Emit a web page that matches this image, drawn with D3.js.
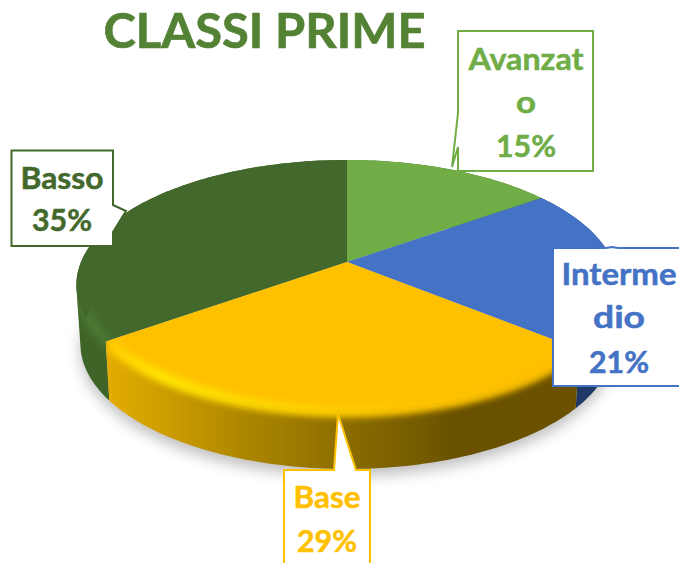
<!DOCTYPE html>
<html><head><meta charset="utf-8">
<script src="https://cdn.jsdelivr.net/npm/d3@7"></script>
<style>html,body{margin:0;padding:0;background:#fff;overflow:hidden}svg{display:block}text{font-family:Lato,"Open Sans",sans-serif;font-weight:700;text-anchor:middle}</style>
</head><body><svg id="c" width="679" height="563"></svg>
<script>
const titleText = "CLASSI PRIME";
const categories = ["Avanzato", "Intermedio", "Base", "Basso"];
const values = [15, 21, 29, 35];
const colors = ["#70ad47", "#4472c4", "#ffc000", "#43682b"];
const labelLines = [["Avanzat", "o", "15%"], ["Interme", "dio", "21%"], ["Base", "29%"], ["Basso", "35%"]];

// layout
const P = {cx: 347, cy: 262, f: 266, g: 120.8, k: 0.184, depth: 59, shrink: 0.985};
const callouts = [
  {path: "M458,31H593V171H458V147L452,167L458,113Z", baselines: [70, 113, 157], x: 526, widths: [115, 20, 60]},
  {path: "M553,248H606L612,247L618,248H690V386H553Z", baselines: [285, 328, 373], x: 619, widths: [115, 52, 60]},
  {path: "M284,470H334L338,414L356,470H370V575H284Z", baselines: [508, 552], x: 327, widths: [67, 60]},
  {path: "M11.5,150.5H113V205L126,211L113,232V246H11.5Z", baselines: [189, 231], x: 62, widths: [83, 60]}
];

const svg = d3.select("#c");
const defs = svg.append("defs");
const blur = (id, s) => defs.append("filter").attr("id", id).attr("x", "-20%").attr("y", "-20%").attr("width", "140%").attr("height", "140%")
  .append("feGaussianBlur").attr("stdDeviation", s);
blur("b9", 7); blur("b3", 3);

function gradient(id, stops) {
  const g = defs.append("linearGradient").attr("id", id).attr("gradientUnits", "userSpaceOnUse")
    .attr("x1", 100).attr("x2", 600).attr("y1", 0).attr("y2", 0);
  stops.forEach(s => g.append("stop").attr("offset", s[0]).attr("stop-color", s[1]));
}
gradient("wallBase", [[0, "#e6ae00"], [0.15, "#c99a00"], [0.3, "#ab8500"], [0.5, "#8a6c00"], [0.72, "#685000"], [0.95, "#6c5200"]]);
gradient("rimBase", [[0, "#ffc800"], [0.12, "#ffe400"], [0.35, "#ffd400"], [0.6, "#ffc400"], [1, "#f8bc00"]]);

function project(theta, r, z) {
  const u = r * Math.sin(theta), v = -r * Math.cos(theta), w = 1 - P.k * v;
  const s = z ? P.shrink : 1;
  return [P.cx + s * P.f * u / w, P.cy + P.g * v / w + (z ? P.depth : 0)];
}
const line = d3.line();
const pie = d3.pie().sort(null).value(d => d);
const slices = pie(values);
const arcAngles = (a, b) => { const n = Math.max(2, Math.ceil((b - a) / 0.02)); return d3.range(n + 1).map(i => a + (b - a) * i / n); };
const topPath = d => line([[P.cx, P.cy], ...arcAngles(d.startAngle, d.endAngle).map(t => project(t, 1, 0))]) + "Z";
const wallPath = d => {
  const ts = arcAngles(d.startAngle, d.endAngle);
  return d3.pairs(ts).map(([a, b]) => {
    const q = [project(a, 1, 0), project(b, 1, 0), project(b, 1, 1), project(a, 1, 1)];
    if (d3.polygonArea(q) < 0) q.reverse();
    return line(q) + "Z";
  }).join("");
};
// bevel only along the part of the rim that faces the viewer
const frontLimit = 1.2;
const rimPath = d => {
  const a = Math.max(d.startAngle, frontLimit), b = Math.min(d.endAngle, 2 * Math.PI - frontLimit);
  if (b <= a) return "";
  return line(arcAngles(a, b).map(t => { const p = project(t, 0.985, 0); return [p[0], p[1] + 4]; }));
};

// shadow
const whole = arcAngles(0, 2 * Math.PI);
svg.append("path").attr("d", line(whole.map(t => { const p = project(t, 1, 1); return [p[0], p[1] + 7]; })) + "Z")
  .attr("fill", "#8c8c8c").attr("opacity", 0.55).attr("filter", "url(#b9)");

const wallFill = ["#4a7a30", "#1f3864", "url(#wallBase)", "#3f6428"];
const rimFill = ["#7cbb50", "#4f7fd0", "url(#rimBase)", "#4a7632"];
const order = [0, 1, 3, 2];

// side walls
svg.append("g").selectAll("path").data(order).join("path")
  .attr("d", i => wallPath(slices[i])).attr("fill", i => wallFill[i]);

// top faces
svg.append("g").selectAll("path").data(order).join("path")
  .attr("d", i => topPath(slices[i])).attr("fill", i => colors[i]);

// soft bevel along the rim, clipped to each slice's top and wall
order.forEach(i => {
  const d = rimPath(slices[i]);
  if (!d) return;
  const id = "clip" + i;
  defs.append("clipPath").attr("id", id).append("path").attr("d", topPath(slices[i]) + wallPath(slices[i]));
  svg.append("g").attr("clip-path", `url(#${id})`).append("path")
    .attr("d", d).attr("fill", "none")
    .attr("stroke", rimFill[i]).attr("stroke-width", 12).attr("filter", "url(#b3)");
});

// title
svg.append("text").attr("x", 264.5).attr("y", 48).attr("font-size", 48)
  .attr("textLength", 322).attr("lengthAdjust", "spacingAndGlyphs")
  .attr("fill", "#548235").attr("stroke", "#548235").attr("stroke-width", 0.7).text(titleText);

// callouts
categories.forEach((name, i) => {
  const c = callouts[i];
  const g = svg.append("g").attr("class", "label").attr("data-category", name);
  g.append("path").attr("d", c.path).attr("fill", "#fff").attr("stroke", colors[i]).attr("stroke-width", 2);
  labelLines[i].forEach((t, j) => {
    g.append("text").attr("x", c.x).attr("y", c.baselines[j]).attr("font-size", 31)
      .attr("textLength", c.widths[j]).attr("lengthAdjust", "spacingAndGlyphs")
      .attr("fill", colors[i]).attr("stroke", colors[i]).attr("stroke-width", 0.5).text(t);
  });
});
</script></body></html>
